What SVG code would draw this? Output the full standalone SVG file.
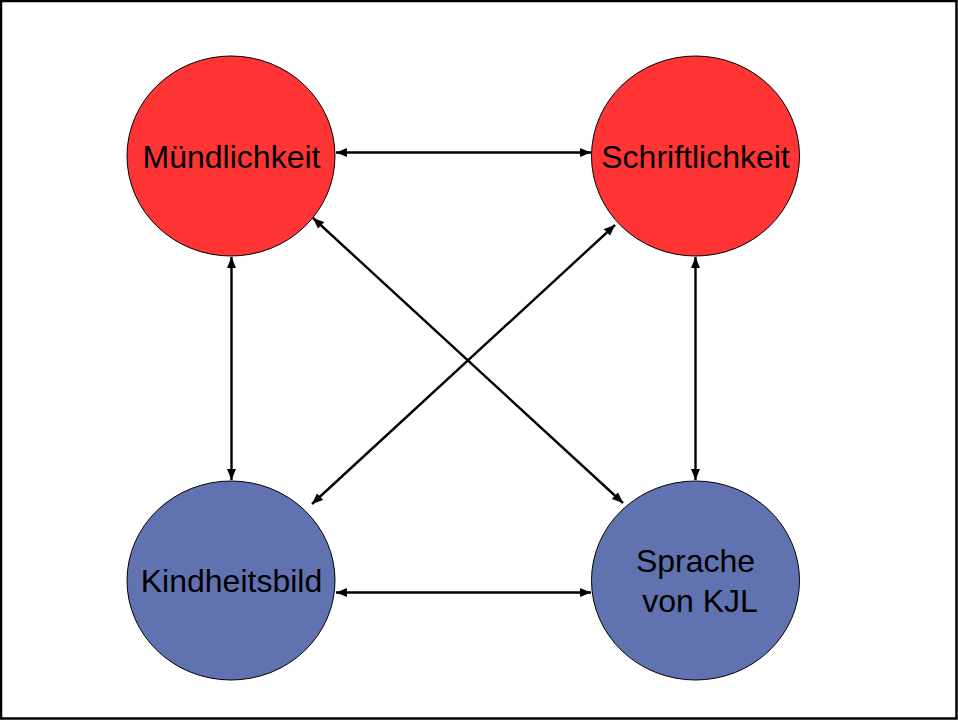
<svg xmlns="http://www.w3.org/2000/svg" width="958" height="720" viewBox="0 0 958 720">
<style>
.red{fill:#FF3535;stroke:#000;stroke-width:1}
.blue{fill:#6172B0;stroke:#000;stroke-width:1}
.lbl{font-family:"Liberation Sans",Arial,sans-serif;font-size:32px;fill:#000;text-anchor:middle}
.con{stroke:#000;stroke-width:2.4;fill:none;marker-start:url(#ah);marker-end:url(#ah)}
</style>
<defs>
<marker id="ah" markerUnits="userSpaceOnUse" markerWidth="12" markerHeight="10" refX="11" refY="4.5" orient="auto-start-reverse" viewBox="0 0 12 9">
<path d="M0,0 L11,4.5 L0,9 z" fill="#000"/>
</marker>
</defs>
<rect x="1" y="1" width="955.5" height="717.5" fill="#fff" stroke="#000" stroke-width="2.5"/>
<g id="n-muendlichkeit">
<ellipse class="red" cx="231" cy="156" rx="104" ry="100"/>
<text class="lbl" x="231.5" y="168">Mündlichkeit</text>
</g>
<g id="n-schriftlichkeit">
<ellipse class="red" cx="695.5" cy="156" rx="104" ry="100"/>
<text class="lbl" x="695.5" y="168">Schriftlichkeit</text>
</g>
<g id="n-kindheitsbild">
<ellipse class="blue" cx="231" cy="580.5" rx="104" ry="99.5"/>
<text class="lbl" x="231.5" y="592">Kindheitsbild</text>
</g>
<g id="n-sprache">
<ellipse class="blue" cx="695.5" cy="580.5" rx="104" ry="99.5"/>
<text class="lbl" x="695.5" y="572">Sprache</text>
<text class="lbl" x="700" y="612">von KJL</text>
</g>
<g id="connectors">
<line class="con" x1="336" y1="152.5" x2="591" y2="152.5"/>
<line class="con" x1="336" y1="592.5" x2="591" y2="592.5"/>
<line class="con" x1="231.5" y1="257" x2="231.5" y2="480"/>
<line class="con" x1="695.5" y1="257" x2="695.5" y2="480"/>
<line class="con" x1="313" y1="218" x2="623" y2="503"/>
<line class="con" x1="615" y1="225" x2="312" y2="504"/>
</g>
</svg>
